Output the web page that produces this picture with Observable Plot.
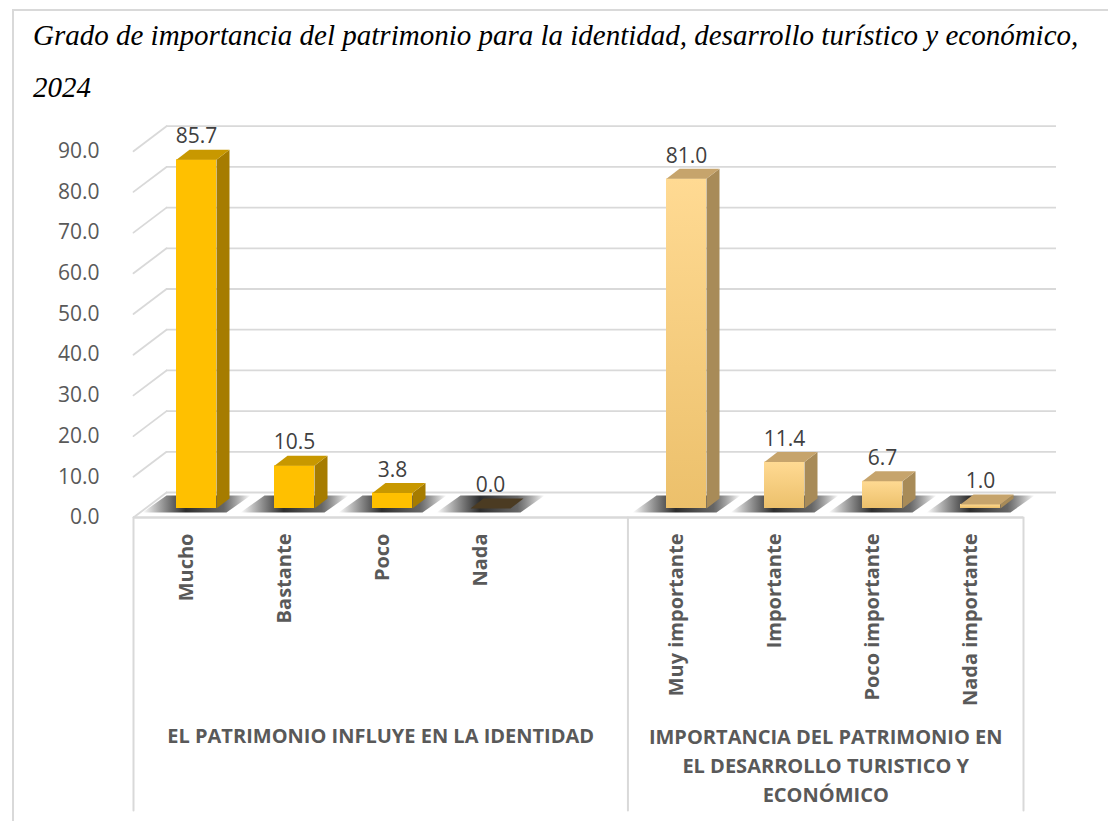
<!DOCTYPE html>
<html>
<head>
<meta charset="utf-8">
<script src="https://cdn.jsdelivr.net/npm/d3@7"></script>
<script src="https://cdn.jsdelivr.net/npm/@observablehq/plot@0.6"></script>
<style>
  html, body { margin: 0; padding: 0; background: #fff; }
  #page { position: relative; width: 1108px; height: 821px; overflow: hidden; }
  #frame { position: absolute; left: 12px; top: 9px; width: 1120px; height: 830px;
           border-left: 2px solid #d9d9d9; border-top: 2px solid #d9d9d9; box-sizing: border-box; }
  #title { position: absolute; left: 33px; top: 9px; width: 1080px;
           font-family: "Liberation Serif", "Times New Roman", serif; font-style: italic;
           font-size: 29px; line-height: 52px; color: #000; white-space: nowrap; }
  #chart { position: absolute; left: 0; top: 110px; }
</style>
</head>
<body>
<div id="page">
  <div id="frame"></div>
  <div id="title">Grado de importancia del patrimonio para la identidad, desarrollo turístico y económico,<br>2024</div>
  <div id="chart"></div>
</div>
<script>
// ---- data ----
const categories1 = ["Mucho", "Bastante", "Poco", "Nada"];
const values1 = [85.7, 10.5, 3.8, 0.0];
const categories2 = ["Muy importante", "Importante", "Poco importante", "Nada importante"];
const values2 = [81.0, 11.4, 6.7, 1.0];
const groupLabels = [
  "EL PATRIMONIO INFLUYE EN LA IDENTIDAD",
  "IMPORTANCIA DEL PATRIMONIO EN\nEL DESARROLLO TURISTICO Y\nECONÓMICO"
];
const yTicks = [0, 10, 20, 30, 40, 50, 60, 70, 80, 90];
const gapKey = "\u2007"; // empty slot between the two groups

// ---- table built from the arrays ----
const data = [
  ...categories1.map((c, i) => ({cat: c, value: values1[i], group: 0})),
  ...categories2.map((c, i) => ({cat: c, value: values2[i], group: 1}))
];
const xDomain = [...categories1, gapKey, ...categories2];

// ---- layout ----
const W = 1108, H = 711;
const mL = 133, mR = 85, mT = 40.7, mB = 304;
const step = (W - mL - mR) / xDomain.length;
const depthX = 10, depthY = -9;           // bars sit in the middle of the floor depth
const grid = "#d9d9d9";

// ---- custom vector shapes (pixel geometry only) ----
const lineShape = {draw(ctx, l) { ctx.moveTo(0, 0); ctx.lineTo(0, -l); }};
const sideShape = {draw(ctx, l) {
  ctx.moveTo(0, 0); ctx.lineTo(13, -10); ctx.lineTo(13, -10 - l); ctx.lineTo(0, -l); ctx.closePath();
}};
const topShape = {draw(ctx, l) {
  ctx.moveTo(-20, -l); ctx.lineTo(20, -l); ctx.lineTo(33, -l - 10); ctx.lineTo(-7, -l - 10); ctx.closePath();
}};
const shadowShape = {draw(ctx) {
  ctx.moveTo(-54, 4); ctx.lineTo(30, 4); ctx.lineTo(54, -13); ctx.lineTo(-30, -13); ctx.closePath();
}};

const defs = () => {
  const d = d3.create("svg:defs");
  const g2 = d.append("linearGradient").attr("id", "g2front").attr("x1", 0).attr("y1", 0).attr("x2", 0).attr("y2", 1);
  g2.append("stop").attr("offset", "0%").attr("stop-color", "#ffda93");
  g2.append("stop").attr("offset", "100%").attr("stop-color", "#ecc06b");
  const sh = d.append("linearGradient").attr("id", "shadowGrad").attr("x1", 0).attr("y1", 0).attr("x2", 1).attr("y2", 0);
  sh.append("stop").attr("offset", "0%").attr("stop-color", "#000").attr("stop-opacity", 0);
  sh.append("stop").attr("offset", "40%").attr("stop-color", "#1a1a1a").attr("stop-opacity", 0.92);
  sh.append("stop").attr("offset", "75%").attr("stop-color", "#333").attr("stop-opacity", 0.75);
  sh.append("stop").attr("offset", "100%").attr("stop-color", "#000").attr("stop-opacity", 0);
  return d.node();
};

const frontFill = d => d.group ? "url(#g2front)" : "#ffc000";
const sideFill = d => d.group ? "#a88b58" : "#a67c00";
const topFill = d => d.value === 0 ? "#4b3b22" : (d.group ? "#c6a46c" : "#c89800");

const boundaries = [0, 5, 9]; // slot edges where the category box has vertical lines

const chart = Plot.plot({
  width: W, height: H,
  marginLeft: mL, marginRight: mR, marginTop: mT, marginBottom: mB,
  x: {type: "band", domain: xDomain, paddingInner: 0.596, paddingOuter: 0.298, axis: null},
  y: {domain: [0, 90], axis: null},
  length: {domain: [0, 90], range: [0, H - mB - mT]},
  style: {background: "transparent", overflow: "visible", fontFamily: "'Open Sans', sans-serif"},
  marks: [
    defs,
    // back wall gridlines
    Plot.ruleY(yTicks, {dx: 33, dy: -25, stroke: grid, strokeWidth: 1.8}),
    // side wall diagonals
    Plot.vector(yTicks, {y: d => d, frameAnchor: "left", length: 41.4, rotate: 52.9, anchor: "start",
      shape: lineShape, stroke: grid, strokeWidth: 1.8, fill: "none"}),
    // floor front edge / category box top
    Plot.ruleY([0], {stroke: grid, strokeWidth: 2.5}),
    // category box vertical lines
    ...boundaries.map(b => Plot.vector([b], {frameAnchor: "bottom-left", dx: b * step, length: 293, rotate: 180,
      anchor: "start", shape: lineShape, stroke: grid, strokeWidth: 2, fill: "none"})),
    // floor shadows
    Plot.vector(data, {x: "cat", y: 0, dx: depthX, dy: depthY, length: 1, anchor: "start",
      shape: shadowShape, fill: "url(#shadowGrad)", stroke: "none", ariaLabel: "shadow"}),
    // bar front faces
    Plot.barY(data, {x: "cat", y: "value", dx: depthX, dy: depthY, fill: frontFill}),
    // bar side faces
    Plot.vector(data, {x: "cat", y: 0, dx: depthX + 20, dy: depthY, length: "value", anchor: "start",
      shape: sideShape, fill: sideFill, stroke: "none"}),
    // bar top faces
    Plot.vector(data, {x: "cat", y: 0, dx: depthX, dy: depthY, length: "value", anchor: "start",
      shape: topShape, fill: topFill, stroke: "none"}),
    // value labels
    Plot.text(data, {x: "cat", y: "value", text: d => d.value.toFixed(1), dx: depthX, dy: -32,
      fontSize: 21, fill: "#404040"}),
    // y axis labels
    Plot.axisY({ticks: yTicks, tickSize: 0, tickPadding: 34, tickFormat: d3.format(".1f"),
      fontSize: 21, fill: "#595959", label: null}),
    // category labels
    Plot.text(data, {x: "cat", frameAnchor: "bottom", dy: 16, text: "cat", rotate: -90,
      textAnchor: "end", lineAnchor: "middle", fontSize: 20, fontWeight: "bold", fill: "#595959"}),
    // group labels
    Plot.text([groupLabels[0]], {frameAnchor: "bottom-left", dx: step * 2.5, dy: 211, text: d => d,
      textAnchor: "middle", lineAnchor: "top", fontSize: 20, fontWeight: "bold", fill: "#595959"}),
    Plot.text([groupLabels[1]], {frameAnchor: "bottom-left", dx: step * 7, dy: 206, text: d => d,
      textAnchor: "middle", lineAnchor: "top", lineHeight: 1.45, fontSize: 20, fontWeight: "bold", fill: "#595959"})
  ]
});

d3.select(chart).selectAll('g[aria-label="shadow"]').style("filter", "blur(2.5px)");
document.getElementById("chart").appendChild(chart);
</script>
</body>
</html>
